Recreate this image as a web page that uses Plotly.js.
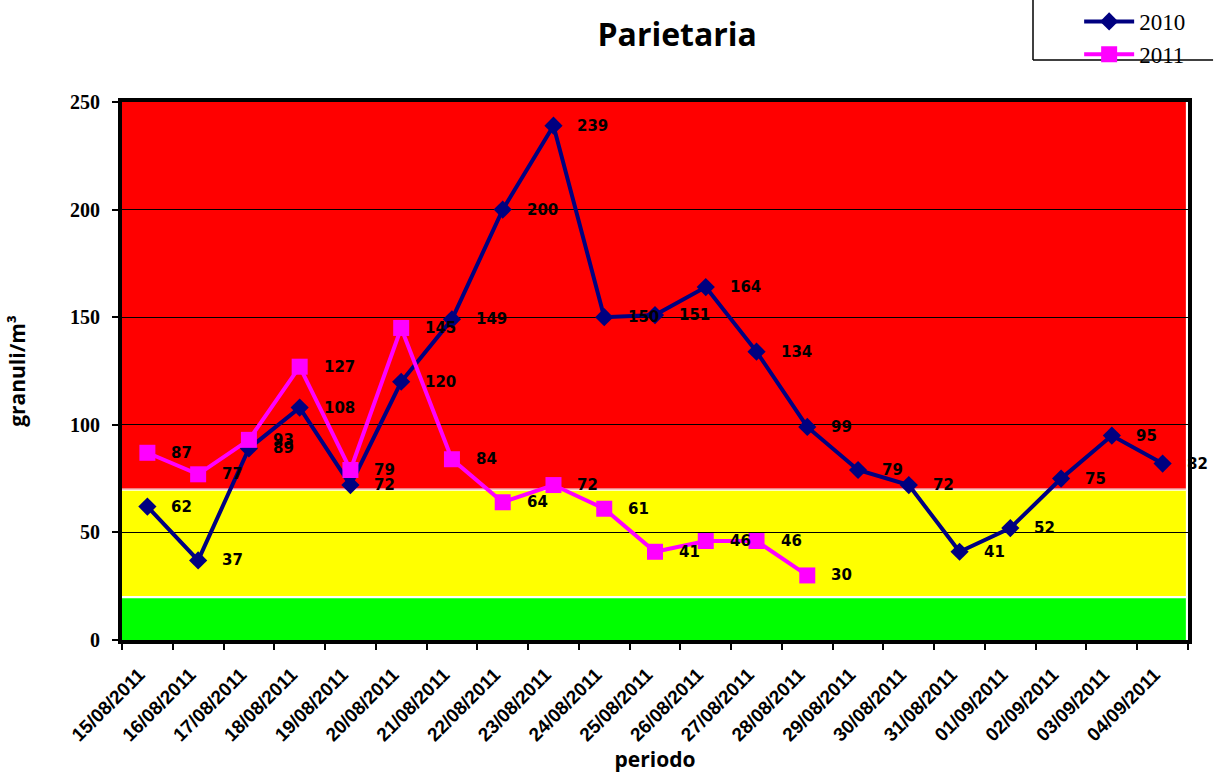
<!DOCTYPE html>
<html>
<head>
<meta charset="utf-8">
<script src="https://cdn.plot.ly/plotly-3.0.1.min.js"></script>
<style>html,body{margin:0;padding:0;background:#fff;}#chart{width:1218px;height:778px;}</style>
</head>
<body>
<div id="chart"></div>
<script>
const dates = ["15/08/2011","16/08/2011","17/08/2011","18/08/2011","19/08/2011","20/08/2011","21/08/2011","22/08/2011","23/08/2011","24/08/2011","25/08/2011","26/08/2011","27/08/2011","28/08/2011","29/08/2011","30/08/2011","31/08/2011","01/09/2011","02/09/2011","03/09/2011","04/09/2011"];
const values2010 = [62,37,89,108,72,120,149,200,239,150,151,164,134,99,79,72,41,52,75,95,82];
const values2011 = [87,77,93,127,79,145,84,64,72,61,41,46,46,30];
const bandLimits = [0,20,70,250];
const bandColors = ["#00ff00","#ffff00","#ff0000"];

const dates2011 = dates.slice(0, values2011.length);

const traces = [
  {x: dates, y: values2010, name: "2010", type: "scatter", mode: "lines+markers",
   line: {color: "#000080", width: 4}, marker: {symbol: "diamond", size: 14, color: "#000080"}},
  {x: dates2011, y: values2011, name: "2011", type: "scatter", mode: "lines+markers",
   line: {color: "#ff00ff", width: 4}, marker: {symbol: "square", size: 16, color: "#ff00ff"}}
];

const shapes = [];
for (let i = 0; i < bandColors.length; i++) {
  shapes.push({type: "rect", xref: "paper", yref: "y", x0: 0, x1: 0.998,
    y0: bandLimits[i] + (i === 0 ? 0 : 0.5), y1: bandLimits[i+1] - (i === bandColors.length-1 ? 0 : 0.6),
    fillcolor: bandColors[i], line: {width: 0}, layer: "below"});
}
shapes.push({type: "line", xref: "paper", yref: "y", x0: 0, x1: 0.998, y0: bandLimits[2]+0.3, y1: bandLimits[2]+0.3,
  line: {color: "#f08080", width: 1.5}, layer: "below"});
// legend frame
shapes.push({type: "line", xref: "paper", yref: "paper", x0: 0.8546, x1: 0.8546, y0: 1.078, y1: 1.2, line: {color: "#000", width: 1.5}});
shapes.push({type: "line", xref: "paper", yref: "paper", x0: 0.8546, x1: 1.0235, y0: 1.078, y1: 1.078, line: {color: "#000", width: 1.5}});

const labelFont = {family: "DejaVu Sans", size: 15, weight: "bold", color: "#000"};
const annotations = [];
values2010.forEach((v, i) => annotations.push({x: dates[i], y: v, xref: "x", yref: "y", text: String(v),
  showarrow: false, xanchor: "left", xshift: 22, font: labelFont}));
values2011.forEach((v, i) => annotations.push({x: dates2011[i], y: v, xref: "x", yref: "y", text: String(v),
  showarrow: false, xanchor: "left", xshift: 22, font: labelFont}));

const layout = {
  width: 1218, height: 778,
  margin: {l: 122, r: 30, t: 102, b: 138, autoexpand: false},
  paper_bgcolor: "#fff", plot_bgcolor: "rgba(0,0,0,0)",
  title: {text: "Parietaria", x: 0.556, xanchor: "center", y: 0.955, yanchor: "middle",
    font: {family: "Open Sans", size: 32, weight: "bold", color: "#000"}},
  showlegend: true,
  legend: {xref: "container", yref: "container", x: 0.886, y: 1.03, xanchor: "left", yanchor: "top",
    bgcolor: "rgba(0,0,0,0)", font: {family: "Liberation Serif", size: 23, color: "#000"},
    tracegroupgap: 0, itemwidth: 50},
  xaxis: {type: "category", range: [-0.5, dates.length - 0.5], autorange: false,
    tickson: "boundaries", ticks: "outside", ticklen: 6, tickwidth: 2, tickcolor: "#000",
    tickangle: -45, tickfont: {family: "Liberation Sans", size: 19, weight: "bold", color: "#000"},
    ticklabelstandoff: 12, ticklabelshift: -8,
    showline: true, linecolor: "#000", linewidth: 4, mirror: true, showgrid: false, zeroline: false,
    title: {text: "periodo", font: {family: "Open Sans", size: 21, weight: "bold", color: "#000"}, standoff: 0}},
  yaxis: {range: [0, 250], tickvals: [0,50,100,150,200,250], ticks: "outside", ticklen: 6, tickwidth: 2, tickcolor: "#000",
    tickfont: {family: "Liberation Serif", size: 20, weight: "bold", color: "#000"},
    ticklabelstandoff: 8,
    showline: true, linecolor: "#000", linewidth: 4, mirror: true,
    showgrid: true, gridcolor: "#000", gridwidth: 1, zeroline: false,
    title: {text: "granuli/m³", font: {family: "Open Sans", size: 21, weight: "bold", color: "#000"}, standoff: 40}},
  shapes: shapes,
  annotations: annotations
};

Plotly.newPlot("chart", traces, layout, {displayModeBar: false});
</script>
</body>
</html>
